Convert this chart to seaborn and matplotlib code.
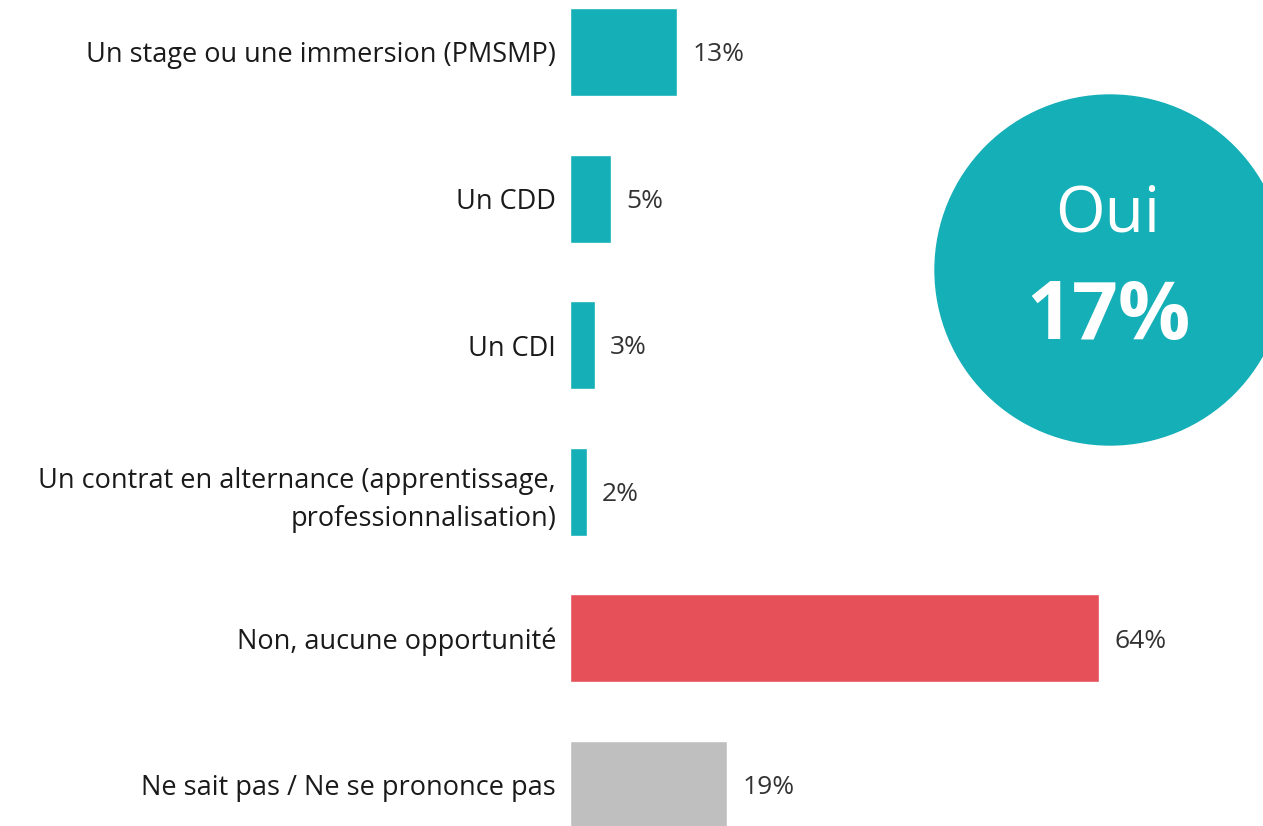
import numpy as np
import matplotlib
matplotlib.use('Agg')
import matplotlib.pyplot as plt
from matplotlib.patches import Ellipse
import pandas as pd
import seaborn as sns

# data
categories = ['Un stage ou une immersion (PMSMP)', 'Un CDD', 'Un CDI',
              'Un contrat en alternance (apprentissage,\nprofessionnalisation)',
              'Non, aucune opportunité', 'Ne sait pas / Ne se prononce pas']
values = [13, 5, 3, 2, 64, 19]
colors = ['#14AFB7', '#14AFB7', '#14AFB7', '#14AFB7', '#E65058', '#BFBFBF']
oui_total = 17

df = pd.DataFrame({'cat': categories, 'val': values})

sns.set_style('white')
plt.rcParams['font.family'] = ['Open Sans', 'DejaVu Sans']

W, H = 1263, 826
fig = plt.figure(figsize=(W / 100, H / 100), dpi=100)
ax = fig.add_axes([570 / W, 0, 1 - 570 / W, 1])

sns.barplot(data=df, y='cat', x='val', hue='cat', palette=colors, orient='h',
            width=0.6, legend=False, ax=ax, saturation=1)

px_per_unit = 529 / 64
ax.set_xlim(0, (W - 570) / px_per_unit)
ax.set_ylim(5 + (826 - 785) / 146.6, -52 / 146.6)

for i, v in enumerate(values):
    ax.annotate(f'{v}%', xy=(v, i), xytext=(11, -2), textcoords='offset points',
                va='center', ha='left', fontsize=19, color='#333333')

ax.set_xlabel('')
ax.set_ylabel('')
ax.set_xticks([])
ax.tick_params(axis='y', length=0, pad=10)
for lab in ax.get_yticklabels():
    lab.set_fontsize(19.5)
    lab.set_color('#1a1a1a')
    lab.set_linespacing(1.45)
sns.despine(ax=ax, left=True, bottom=True)

# Oui circle
circle = Ellipse((1110 / W, 1 - 270 / H), 350 / W, 350 / H,
                 transform=fig.transFigure, color='#14AFB7', zorder=5)
fig.patches.append(circle)
fig.text(1108 / W, 1 - 215 / H, 'Oui', ha='center', va='center', fontsize=46,
         color='white', zorder=6)
fig.text(1108 / W, 1 - 318 / H, f'{oui_total}%', ha='center', va='center',
         fontsize=58, fontweight='bold', color='white', zorder=6)

fig.savefig('out.png', dpi=100)
